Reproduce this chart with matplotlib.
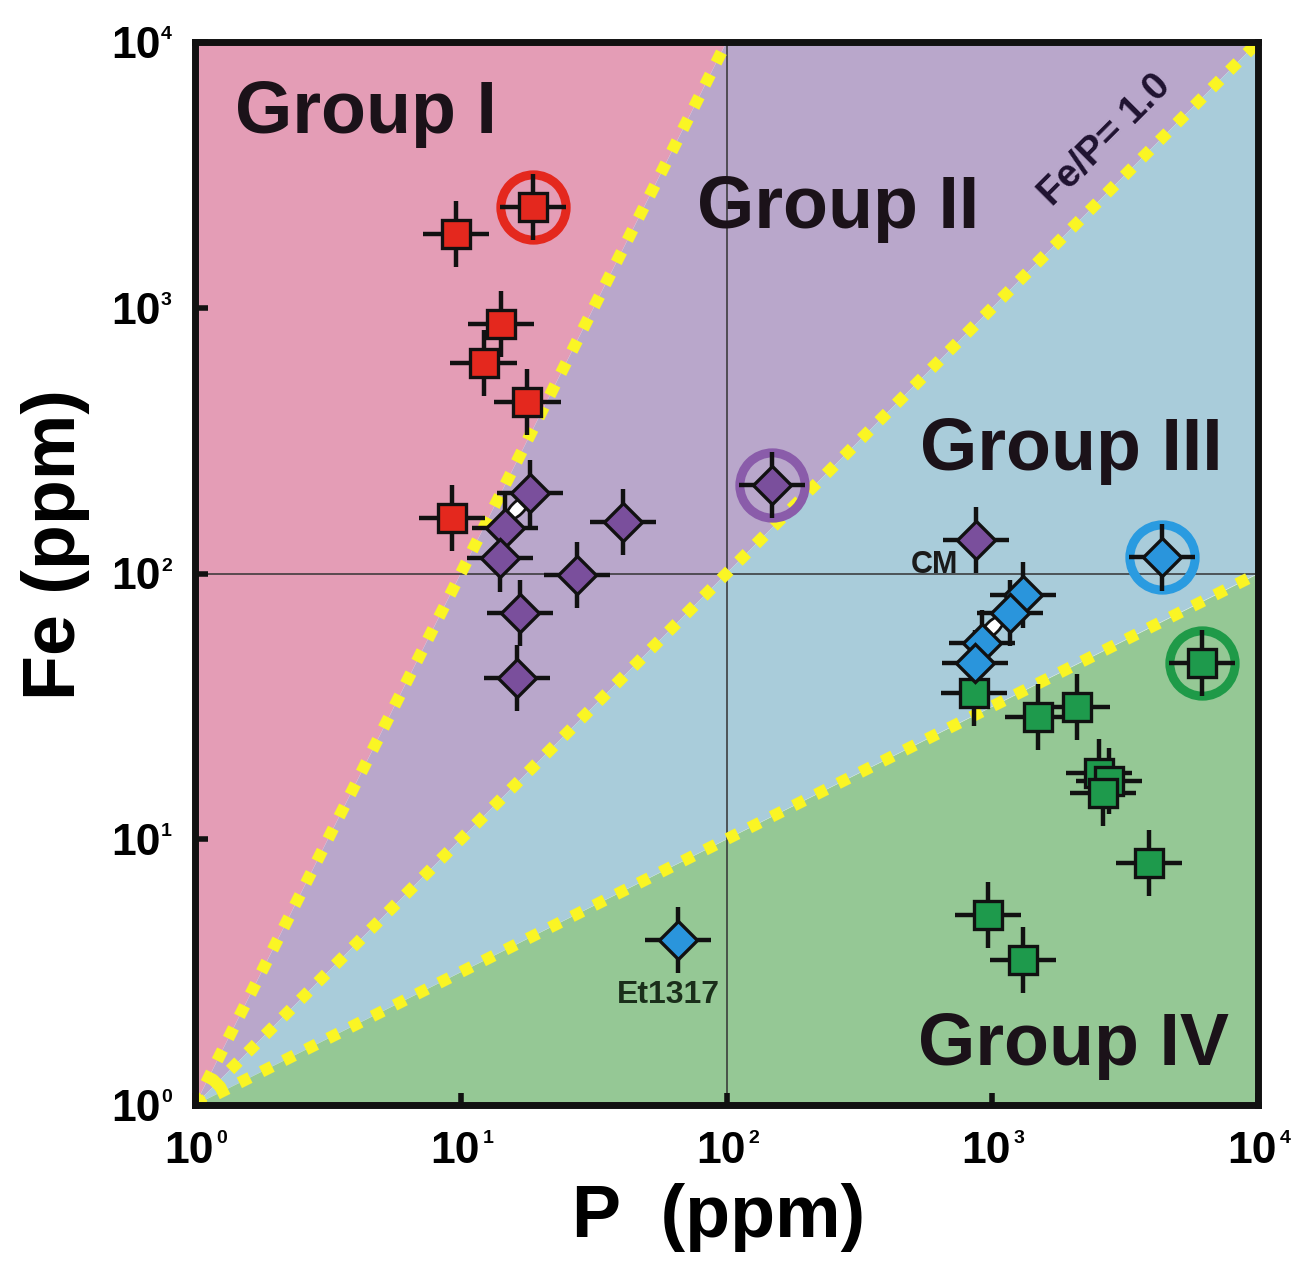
import numpy as np
import matplotlib
matplotlib.use("Agg")
import matplotlib.pyplot as plt
from matplotlib.markers import MarkerStyle
from matplotlib.transforms import Affine2D, blended_transform_factory, offset_copy

plt.rcParams['font.family'] = ['Liberation Sans', 'DejaVu Sans']

# ---------------- data ----------------
red_P = [18.7, 9.6, 14.2, 12.2, 17.8, 9.27]
red_Fe = [2394, 1894, 869, 620, 442, 162]

purple_P = [148, 18.2, 14.7, 14.05, 40.8, 27.4, 16.7, 16.3, 869]
purple_Fe = [215, 201, 148, 114, 156, 98.7, 71.0, 40.4, 134]

blue_P = [4354, 1305, 1166, 915, 861, 65.7]
blue_Fe = [115, 83.0, 71.0, 54.8, 46.0, 4.18]

green_P = [6155, 854, 1486, 2083, 2522, 2750, 2611, 3890, 964, 1305]
green_Fe = [46.0, 35.5, 28.8, 31.5, 17.8, 16.6, 14.9, 8.14, 5.19, 3.51]

open_P = [16.3, 998]
open_Fe = [176, 62.9]

circled_P = [18.7, 148, 4354, 6155]
circled_Fe = [2394, 215, 115, 46.0]

# boundary lines Fe = P**k
boundary_exp = [2.0, 1.0, 0.5]

tick_vals = [1, 10, 100, 1000, 10000]
tick_exps = ['0', '1', '2', '3', '4']

group_names = ['Group I', 'Group II', 'Group III', 'Group IV']
group_pos = [(1.41, 4546), (77.4, 1995), (535, 245), (526, 1.41)]

# ---------------- style ----------------
C_PINK = '#E49DB6'
C_PURP = '#B9A7CB'
C_BLUE = '#A9CCDA'
C_GREEN = '#95C895'
C_YEL = '#FAF524'
C_RED = '#E4281E'
C_PUR_M = '#7A4F9C'
C_BLU_M = '#2A95DC'
C_GRN_M = '#1E9A4C'
ERR_DEX = 0.125

fig = plt.figure(figsize=(13.06, 12.61), dpi=100)
ax = fig.add_axes([195/1306, 1-1105/1261, (1258-195)/1306, (1105-42)/1261])
ax.set_xscale('log')
ax.set_yscale('log')
ax.set_xlim(1, 1e4)
ax.set_ylim(1, 1e4)

x0, x1 = 1.0, 1e4
y0, y1 = 1.0, 1e4
xa = y1 ** (1 / boundary_exp[0])
xc_y = x1 ** boundary_exp[2]
ax.fill([x0, xa, x0], [y0, y1, y1], color=C_PINK, lw=0, zorder=0)
ax.fill([x0, x1, xa], [y0, y1, y1], color=C_PURP, lw=0, zorder=0)
ax.fill([x0, x1, x1], [y0, xc_y, y1], color=C_BLUE, lw=0, zorder=0)
ax.fill([x0, x1, x1], [y0, y0, xc_y], color=C_GREEN, lw=0, zorder=0)

for k in boundary_exp:
    xe = min(x1, y1 ** (1 / k))
    ax.plot([1.0, xe], [1.0, xe ** k], color=C_YEL, lw=8.5,
            linestyle=(0, (1.0, 1.1)), dash_capstyle='butt', zorder=2)

ax.axvline(100, color='#333333', lw=1.1, zorder=1)
ax.axhline(100, color='#333333', lw=1.1, zorder=1)


def errs(v):
    v = np.asarray(v, dtype=float)
    return np.vstack([v - v / 10 ** ERR_DEX, v * 10 ** ERR_DEX - v])


def series(P, Fe, marker, color, ms):
    ax.errorbar(P, Fe, xerr=errs(P), yerr=errs(Fe), fmt='none', ecolor='#111111',
                elinewidth=3.2, capsize=0, zorder=4)
    ax.plot(P, Fe, linestyle='none', marker=marker, markersize=ms, markerfacecolor=color,
            markeredgecolor='#111111', markeredgewidth=2.4, zorder=5)


ring_colors = [C_RED, '#8A5CAA', '#2A9BE0', '#1F9A48']
for p, f, c in zip(circled_P, circled_Fe, ring_colors):
    ax.plot([p], [f], linestyle='none', marker='o', markersize=47, markerfacecolor='none',
            markeredgecolor=c, markeredgewidth=6.5, zorder=3)

oval = MarkerStyle('o', transform=Affine2D().scale(1.0, 0.42).rotate_deg(45))
ax.plot(open_P, open_Fe, linestyle='none', marker=oval, markersize=22,
        markerfacecolor='white', markeredgecolor='#111111', markeredgewidth=2.0, zorder=4.5)

series(red_P, red_Fe, 's', C_RED, 20.5)
series(green_P, green_Fe, 's', C_GRN_M, 20.5)
series(purple_P, purple_Fe, 'D', C_PUR_M, 19.5)
series(blue_P, blue_Fe, 'D', C_BLU_M, 19.5)

for name, (px, py) in zip(group_names, group_pos):
    ax.text(px, py, name, fontsize=53, fontweight='bold', color='#1b1219',
            ha='left', va='baseline', zorder=6)

ax.text(2655, 4276, 'Fe/P= 1.0', fontsize=28, fontweight='bold', color='#1f1230',
        rotation=45, rotation_mode='anchor', ha='center', va='center', zorder=6)
ax.text(743, 108, 'CM', fontsize=22, fontweight='bold', color='#1a1a1a',
        ha='right', va='center', zorder=6)
ax.text(60.2, 2.59, 'Et1317', fontsize=23, fontweight='bold', color='#1a2e1a',
        ha='center', va='center', zorder=6)

# axes / ticks
ax.set_xticks(tick_vals)
ax.set_yticks(tick_vals)
ax.set_xticklabels([])
ax.set_yticklabels([])
ax.minorticks_off()
ax.tick_params(which='major', direction='in', length=9, width=4, color='#111111')
for s in ax.spines.values():
    s.set_linewidth(5)
    s.set_color('#111111')
    s.set_zorder(10)

tx = blended_transform_factory(ax.transData, ax.transAxes)
ty = blended_transform_factory(ax.transAxes, ax.transData)
for v, e in zip(tick_vals, tick_exps):
    ax.text(v, 0, '10', transform=offset_copy(tx, fig, x=-4.3, y=-41.8, units='points'),
            ha='center', va='baseline', fontsize=32, fontweight='bold', clip_on=False)
    ax.text(v, 0, e, transform=offset_copy(tx, fig, x=15.5, y=-27.4, units='points'),
            ha='left', va='baseline', fontsize=14, fontweight='bold', clip_on=False)
    ax.text(0, v, '10', transform=offset_copy(ty, fig, x=-25, y=-11.5, units='points'),
            ha='right', va='baseline', fontsize=32, fontweight='bold', clip_on=False)
    ax.text(0, v, e, transform=offset_copy(ty, fig, x=-24.5, y=2, units='points'),
            ha='left', va='baseline', fontsize=14, fontweight='bold', clip_on=False)

ax.set_xlabel('P  (ppm)', fontsize=53, fontweight='bold')
ax.set_ylabel('Fe (ppm)', fontsize=53, fontweight='bold')
ax.xaxis.set_label_coords(0.493, -0.0734)
ax.yaxis.set_label_coords(-0.099, 0.527)

fig.savefig('out.png', dpi=100, facecolor='white')
